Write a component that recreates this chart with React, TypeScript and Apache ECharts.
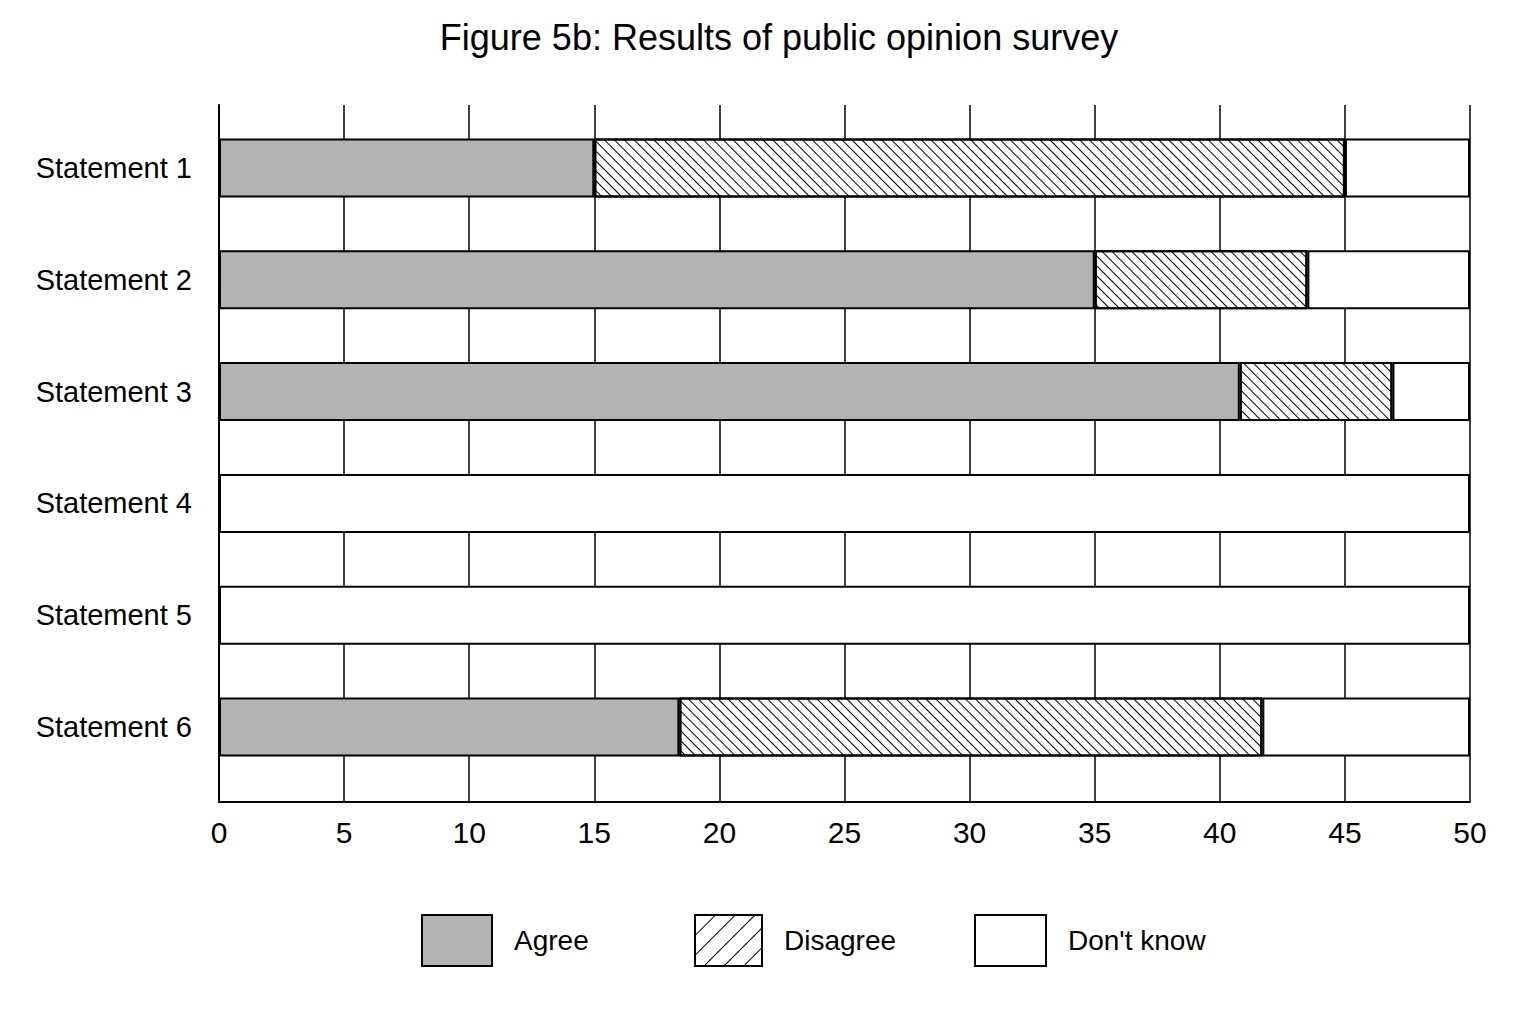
import React, { useEffect, useRef } from 'react';
import * as echarts from 'echarts';

const categories = ['Statement 1', 'Statement 2', 'Statement 3', 'Statement 4', 'Statement 5', 'Statement 6'];
const agree = [15, 35, 40.8, 0, 0, 18.4];
const disagree = [30, 8.5, 6.1, 0, 0, 23.3];
const dontKnow = [5, 6.5, 3.1, 50, 50, 8.3];
const seriesNames = ['Agree', 'Disagree', "Don't know"];

const narrow = "'Liberation Sans Narrow', 'Arial Narrow', 'Liberation Sans', Arial, sans-serif";

// hatch patterns: bars lean "\\\", the legend box leans "///"
const barHatch = {
  symbol: 'rect',
  symbolSize: 1,
  dashArrayX: [1, 0],
  dashArrayY: [1, 6],
  rotation: Math.PI / 4,
  color: '#000',
};
const legendHatch = {
  symbol: 'rect',
  symbolSize: 1,
  dashArrayX: [1, 0],
  dashArrayY: [1, 13],
  rotation: -Math.PI / 4,
  color: '#000',
};

const App: React.FC = () => {
  const chartRef = useRef<HTMLDivElement>(null);

  useEffect(() => {
    document.body.style.margin = '0';
    if (!chartRef.current) return;
    const chart = echarts.init(chartRef.current, undefined, { renderer: 'svg' });

    const legendBase = (left: number, name: string, width: number, decal?: any) => ({
      left,
      top: 914,
      padding: 0,
      orient: 'horizontal',
      itemWidth: width,
      itemHeight: 51,
      icon: 'rect',
      selectedMode: false,
      data: [decal ? { name, itemStyle: { decal } } : name],
      itemStyle: { borderColor: '#000', borderWidth: 2 },
      textStyle: {
        fontFamily: narrow,
        fontSize: 28,
        color: '#000',
        padding: [0, 0, 0, 17],
      },
    });

    const option = {
      animation: false,
      backgroundColor: '#fff',
      title: {
        text: 'Figure 5b: Results of public opinion survey',
        left: 774,
        top: 14,
        textAlign: 'center',
        textStyle: {
          fontFamily: "'Liberation Sans', Arial, sans-serif",
          fontSize: 36,
          fontWeight: 'normal',
          color: '#000',
        },
      },
      legend: [
        legendBase(421, seriesNames[0], 70),
        legendBase(694, seriesNames[1], 67, legendHatch),
        legendBase(974, seriesNames[2], 71),
      ],
      grid: [
        { left: 219, top: 105, width: 1251, height: 697 },
        { left: 219, top: 112, width: 1251, height: 671 },
      ],
      xAxis: [
        {
          gridIndex: 0,
          type: 'value',
          min: 0,
          max: 50,
          interval: 5,
          axisLine: { show: true, lineStyle: { color: '#000', width: 2 } },
          axisTick: { show: false },
          splitLine: { show: true, lineStyle: { color: '#000', width: 1.5 } },
          axisLabel: { margin: 15, fontFamily: narrow, fontSize: 30, color: '#000' },
        },
        {
          gridIndex: 1,
          type: 'value',
          min: 0,
          max: 50,
          show: false,
        },
      ],
      yAxis: [
        {
          gridIndex: 0,
          type: 'value',
          min: 0,
          max: 1,
          axisLine: { show: true, lineStyle: { color: '#000', width: 2 } },
          axisTick: { show: false },
          axisLabel: { show: false },
          splitLine: { show: false },
        },
        {
          gridIndex: 1,
          type: 'category',
          inverse: true,
          data: categories,
          axisLine: { show: false },
          axisTick: { show: false },
          splitLine: { show: false },
          axisLabel: { margin: 27, fontFamily: narrow, fontSize: 29, color: '#000' },
        },
      ],
      series: [
        {
          name: seriesNames[0],
          type: 'bar',
          stack: 'total',
          xAxisIndex: 1,
          yAxisIndex: 1,
          barWidth: 59,
          data: agree,
          itemStyle: { color: '#b3b3b3', borderColor: '#000', borderWidth: 2 },
        },
        {
          name: seriesNames[1],
          type: 'bar',
          stack: 'total',
          xAxisIndex: 1,
          yAxisIndex: 1,
          barWidth: 59,
          data: disagree,
          itemStyle: { color: '#fff', borderColor: '#000', borderWidth: 2, decal: barHatch },
        },
        {
          name: seriesNames[2],
          type: 'bar',
          stack: 'total',
          xAxisIndex: 1,
          yAxisIndex: 1,
          barWidth: 59,
          data: dontKnow,
          itemStyle: { color: '#fff', borderColor: '#000', borderWidth: 2 },
        },
      ],
    };

    chart.setOption(option);
    return () => {
      chart.dispose();
    };
  }, []);

  return <div ref={chartRef} style={{ width: 1536, height: 1024 }} />;
};

export default App;
